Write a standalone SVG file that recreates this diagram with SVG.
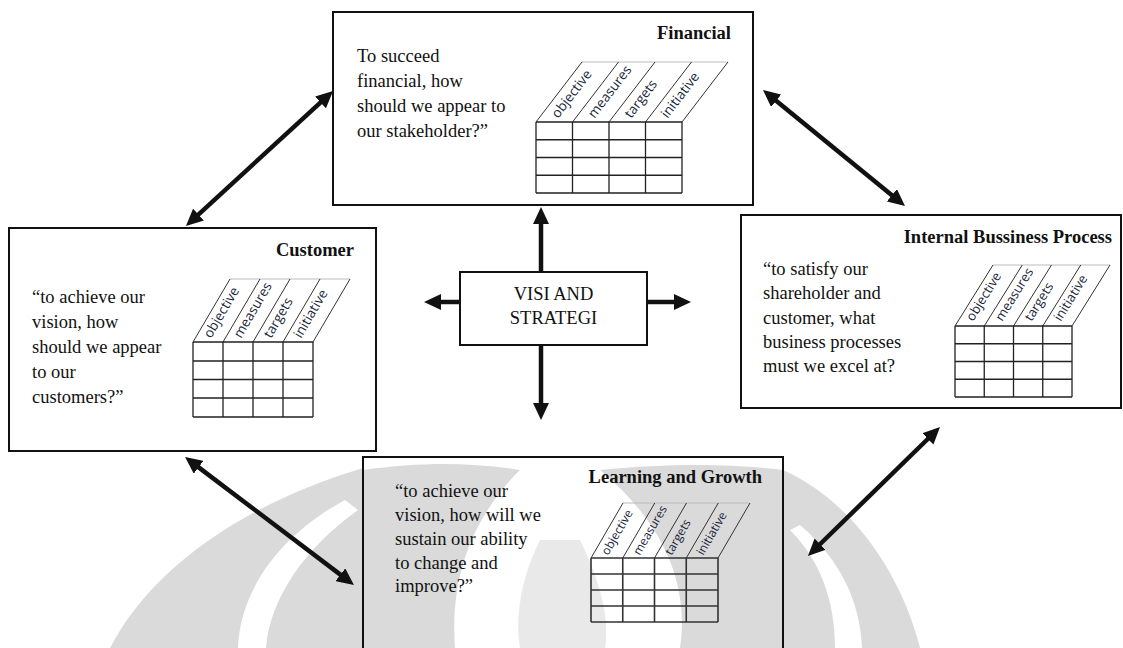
<svg xmlns="http://www.w3.org/2000/svg" width="1123" height="648" viewBox="0 0 1123 648">
<style>
.box{fill:#fff;stroke:#111;stroke-width:2}
.boxo{fill:none;stroke:#111;stroke-width:2}
.t{font-family:"Liberation Serif","Times New Roman",serif;font-size:18.5px;fill:#111}
.tb{font-family:"Liberation Serif","Times New Roman",serif;font-size:18.5px;font-weight:bold;fill:#111;text-anchor:end}
.grid{fill:none;stroke:#222;stroke-width:1.3}
.sl{fill:none;stroke:#333;stroke-width:1}
.top{fill:none;stroke:#bbb;stroke-width:1}
.h{font-family:"Open Sans","Noto Sans",sans-serif;font-size:13.5px;fill:#1a1f3a}
.wm{fill:#dadada}
.ar{fill:none;stroke:#111;stroke-width:4.5}
</style>
<defs>
<marker id="ah" markerUnits="userSpaceOnUse" markerWidth="18" markerHeight="16" refX="2" refY="8" orient="auto-start-reverse">
<path d="M0,0 L17,8 L0,16 Z" fill="#111"/>
</marker>
</defs>
<rect width="1123" height="648" fill="#fff"/>
<g id="watermark">
<path class="wm" d="M110,648 C150,570 240,505 363,468 L363,648 Z"/>
<path fill="#fff" d="M238,648 C240,590 280,535 345,500 L358,510 C305,548 270,598 266,648 Z"/>
<path class="wm" d="M363,470 C420,462 470,462 520,470 C470,520 450,580 455,648 L363,648 Z"/>
<path class="wm" d="M600,470 C680,462 740,465 783,470 L783,648 L680,648 C690,580 660,520 600,470 Z"/>
<path class="wm" d="M783,470 C850,500 900,570 920,648 L783,648 Z"/>
<path fill="#fff" d="M835,648 C835,600 820,560 790,530 L800,525 C840,560 860,600 862,648 Z"/>
<path class="wm" d="M540,540 C520,580 515,620 520,648 L605,648 C610,620 600,580 580,540 Z" opacity="0.6"/>
</g>
<g id="connectors">
<line class="ar" x1="197" y1="215.9" x2="322" y2="101.1" marker-start="url(#ah)" marker-end="url(#ah)"/>
<line class="ar" x1="774.6" y1="99.5" x2="893.4" y2="196.5" marker-start="url(#ah)" marker-end="url(#ah)"/>
<line class="ar" x1="197" y1="466.1" x2="342" y2="575.9" marker-start="url(#ah)" marker-end="url(#ah)"/>
<line class="ar" x1="929.3" y1="437.5" x2="818.7" y2="545.5" marker-start="url(#ah)" marker-end="url(#ah)"/>
<line class="ar" x1="541" y1="272" x2="541" y2="222" marker-end="url(#ah)"/>
<line class="ar" x1="541" y1="345" x2="541" y2="405" marker-end="url(#ah)"/>
<line class="ar" x1="460" y1="302" x2="439" y2="302" marker-end="url(#ah)"/>
<line class="ar" x1="647" y1="302" x2="676" y2="302" marker-end="url(#ah)"/>
</g>
<g id="financial">
<rect class="box" x="333" y="12" width="420" height="193"/>
<text class="tb" x="731" y="39">Financial</text>
<text class="t" x="357" y="61.5">To succeed</text>
<text class="t" x="357" y="86.5">financial, how</text>
<text class="t" x="357" y="111.5">should we appear to</text>
<text class="t" x="357" y="136.5">our stakeholder?”</text>
<path class="top" d="M582,62 H728"/>
<path class="sl" d="M536,122 L582,62 M572.5,122 L618.5,62 M609,122 L655,62 M645.5,122 L691.5,62 M682,122 L728,62"/>
<path class="grid" d="M536,122 H682 M536,139.75 H682 M536,157.5 H682 M536,175.25 H682 M536,193 H682 M536,122 V193 M572.5,122 V193 M609,122 V193 M645.5,122 V193 M682,122 V193"/>
<text class="h" transform="translate(558,119) rotate(-52.5)">objective</text>
<text class="h" transform="translate(594.5,119) rotate(-52.5)">measures</text>
<text class="h" transform="translate(631,119) rotate(-52.5)">targets</text>
<text class="h" transform="translate(667.5,119) rotate(-52.5)">initiative</text>
</g>
<g id="customer">
<rect class="box" x="9" y="228" width="367" height="223"/>
<text class="tb" x="354" y="256">Customer</text>
<text class="t" x="32" y="302.5">“to achieve our</text>
<text class="t" x="32" y="327.5">vision, how</text>
<text class="t" x="32" y="352.5">should we appear</text>
<text class="t" x="32" y="377.5">to our</text>
<text class="t" x="32" y="402.5">customers?”</text>
<path class="top" d="M230,279 H350"/>
<path class="sl" d="M193,342 L230,279 M223,342 L260,279 M253,342 L290,279 M283,342 L320,279 M313,342 L350,279"/>
<path class="grid" d="M193,342 H313 M193,361 H313 M193,379.5 H313 M193,398 H313 M193,417 H313 M193,342 V417 M223,342 V417 M253,342 V417 M283,342 V417 M313,342 V417"/>
<text class="h" transform="translate(211,339) rotate(-59.6)">objective</text>
<text class="h" transform="translate(241,339) rotate(-59.6)">measures</text>
<text class="h" transform="translate(271,339) rotate(-59.6)">targets</text>
<text class="h" transform="translate(301,339) rotate(-59.6)">initiative</text>
</g>
<g id="internal">
<rect class="box" x="741" y="215" width="380" height="193"/>
<text class="tb" x="1112" y="243">Internal Bussiness Process</text>
<text class="t" x="763" y="275">“to satisfy our</text>
<text class="t" x="763" y="299">shareholder and</text>
<text class="t" x="763" y="323.5">customer, what</text>
<text class="t" x="763" y="348">business processes</text>
<text class="t" x="763" y="372">must we excel at?</text>
<path class="top" d="M993,265 H1110"/>
<path class="sl" d="M955,326 L993,265 M984.25,326 L1022.25,265 M1013.5,326 L1051.5,265 M1042.75,326 L1080.75,265 M1072,326 L1110,265"/>
<path class="grid" d="M955,326 H1072 M955,343.75 H1072 M955,361.5 H1072 M955,379.25 H1072 M955,397 H1072 M955,326 V397 M984.25,326 V397 M1013.5,326 V397 M1042.75,326 V397 M1072,326 V397"/>
<text class="h" transform="translate(973,322) rotate(-58.1)" style="font-size:13px">objective</text>
<text class="h" transform="translate(1002.25,322) rotate(-58.1)" style="font-size:13px">measures</text>
<text class="h" transform="translate(1031.5,322) rotate(-58.1)" style="font-size:13px">targets</text>
<text class="h" transform="translate(1060.75,322) rotate(-58.1)" style="font-size:13px">initiative</text>
</g>
<g id="center">
<rect class="box" x="460" y="272" width="187" height="73"/>
<text class="t" x="553.5" y="300" text-anchor="middle">VISI AND</text>
<text class="t" x="553.5" y="324" text-anchor="middle">STRATEGI</text>
</g>
<g id="learning">
<rect class="boxo" x="363" y="457" width="420" height="200"/>
<text class="tb" x="762" y="483">Learning and Growth</text>
<text class="t" x="395" y="497">“to achieve our</text>
<text class="t" x="395" y="521">vision, how will we</text>
<text class="t" x="395" y="545">sustain our ability</text>
<text class="t" x="395" y="568.5">to change and</text>
<text class="t" x="395" y="592">improve?”</text>
<path class="top" d="M623,503 H750"/>
<path class="sl" d="M591,558 L623,503 M622.75,558 L654.75,503 M654.5,558 L686.5,503 M686.25,558 L718.25,503 M718,558 L750,503"/>
<path class="grid" d="M591,558 H718 M591,574 H718 M591,590 H718 M591,606 H718 M591,622 H718 M591,558 V622 M622.75,558 V622 M654.5,558 V622 M686.25,558 V622 M718,558 V622" style="stroke:#333;stroke-width:1.6"/>
<text class="h" transform="translate(608,556) rotate(-59.8)" style="font-size:12px">objective</text>
<text class="h" transform="translate(639.75,556) rotate(-59.8)" style="font-size:12px">measures</text>
<text class="h" transform="translate(671.5,556) rotate(-59.8)" style="font-size:12px">targets</text>
<text class="h" transform="translate(703.25,556) rotate(-59.8)" style="font-size:12px">initiative</text>
</g>
</svg>
